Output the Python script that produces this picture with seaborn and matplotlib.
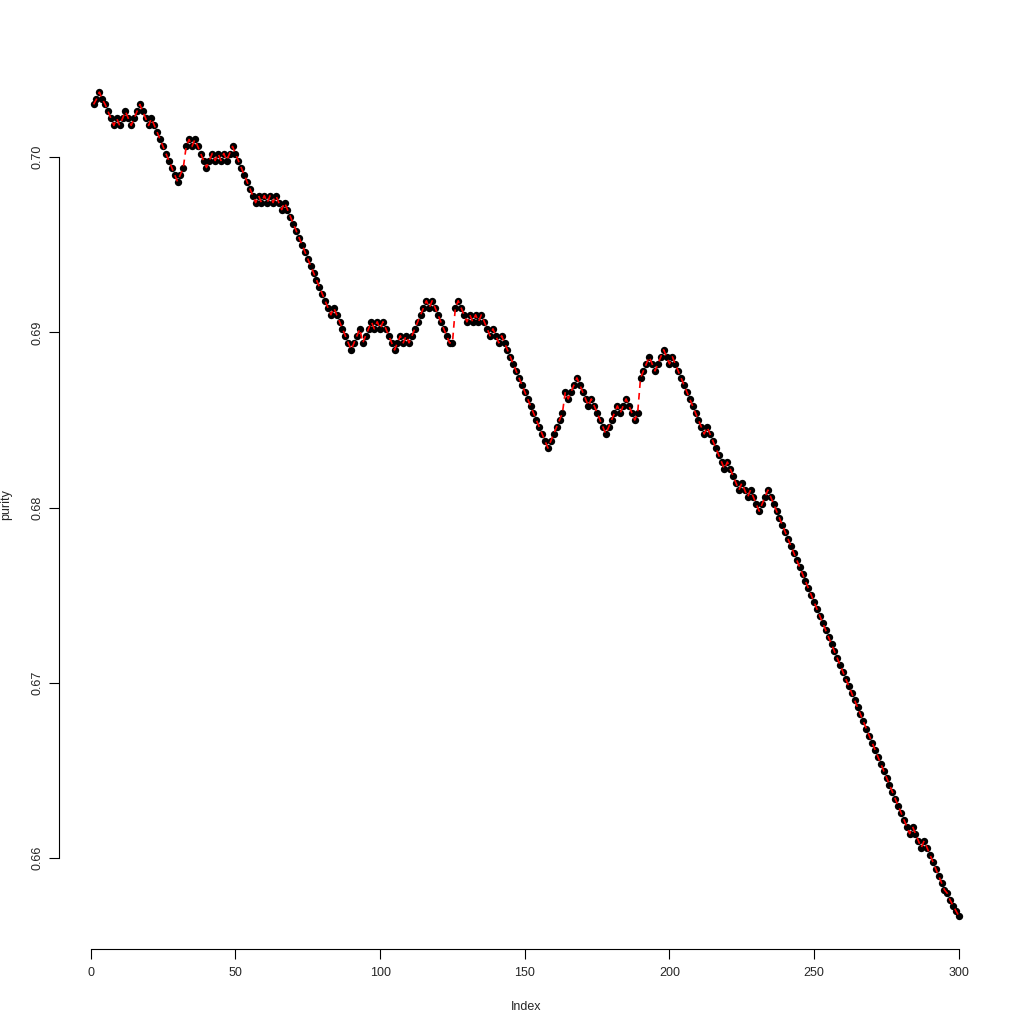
import numpy as np
import pandas as pd
import matplotlib
matplotlib.use("Agg")
import matplotlib.pyplot as plt
import seaborn as sns

purity = [
    0.7030, 0.7033, 0.7037, 0.7033, 0.7030, 0.7026, 0.7022, 0.7018, 0.7022, 0.7018,
    0.7022, 0.7026, 0.7022, 0.7018, 0.7022, 0.7026, 0.7030, 0.7026, 0.7022, 0.7018,
    0.7022, 0.7018, 0.7014, 0.7010, 0.7006, 0.7002, 0.6998, 0.6994, 0.6990, 0.6986,
    0.6990, 0.6994, 0.7006, 0.7010, 0.7006, 0.7010, 0.7006, 0.7002, 0.6998, 0.6994,
    0.6998, 0.7002, 0.6998, 0.7002, 0.6998, 0.7002, 0.6998, 0.7002, 0.7006, 0.7002,
    0.6998, 0.6994, 0.6990, 0.6986, 0.6982, 0.6978, 0.6974, 0.6978, 0.6974, 0.6978,
    0.6974, 0.6978, 0.6974, 0.6978, 0.6974, 0.6970, 0.6974, 0.6970, 0.6966, 0.6962,
    0.6958, 0.6954, 0.6950, 0.6946, 0.6942, 0.6938, 0.6934, 0.6930, 0.6926, 0.6922,
    0.6918, 0.6914, 0.6910, 0.6914, 0.6910, 0.6906, 0.6902, 0.6898, 0.6894, 0.6890,
    0.6894, 0.6898, 0.6902, 0.6894, 0.6898, 0.6902, 0.6906, 0.6902, 0.6906, 0.6902,
    0.6906, 0.6902, 0.6898, 0.6894, 0.6890, 0.6894, 0.6898, 0.6894, 0.6898, 0.6894,
    0.6898, 0.6902, 0.6906, 0.6910, 0.6914, 0.6918, 0.6914, 0.6918, 0.6914, 0.6910,
    0.6906, 0.6902, 0.6898, 0.6894, 0.6894, 0.6914, 0.6918, 0.6914, 0.6910, 0.6906,
    0.6910, 0.6906, 0.6910, 0.6906, 0.6910, 0.6906, 0.6902, 0.6898, 0.6902, 0.6898,
    0.6894, 0.6898, 0.6894, 0.6890, 0.6886, 0.6882, 0.6878, 0.6874, 0.6870, 0.6866,
    0.6862, 0.6858, 0.6854, 0.6850, 0.6846, 0.6842, 0.6838, 0.6834, 0.6838, 0.6842,
    0.6846, 0.6850, 0.6854, 0.6866, 0.6862, 0.6866, 0.6870, 0.6874, 0.6870, 0.6866,
    0.6862, 0.6858, 0.6862, 0.6858, 0.6854, 0.6850, 0.6846, 0.6842, 0.6846, 0.6850,
    0.6854, 0.6858, 0.6854, 0.6858, 0.6862, 0.6858, 0.6854, 0.6850, 0.6854, 0.6874,
    0.6878, 0.6882, 0.6886, 0.6882, 0.6878, 0.6882, 0.6886, 0.6890, 0.6886, 0.6882,
    0.6886, 0.6882, 0.6878, 0.6874, 0.6870, 0.6866, 0.6862, 0.6858, 0.6854, 0.6850,
    0.6846, 0.6842, 0.6846, 0.6842, 0.6838, 0.6834, 0.6830, 0.6826, 0.6822, 0.6826,
    0.6822, 0.6818, 0.6814, 0.6810, 0.6814, 0.6810, 0.6806, 0.6810, 0.6806, 0.6802,
    0.6798, 0.6802, 0.6806, 0.6810, 0.6806, 0.6802, 0.6798, 0.6794, 0.6790, 0.6786,
    0.6782, 0.6778, 0.6774, 0.6770, 0.6766, 0.6762, 0.6758, 0.6754, 0.6750, 0.6746,
    0.6742, 0.6738, 0.6734, 0.6730, 0.6726, 0.6722, 0.6718, 0.6714, 0.6710, 0.6706,
    0.6702, 0.6698, 0.6694, 0.6690, 0.6686, 0.6682, 0.6678, 0.6674, 0.6670, 0.6666,
    0.6662, 0.6658, 0.6654, 0.6650, 0.6646, 0.6642, 0.6638, 0.6634, 0.6630, 0.6626,
    0.6622, 0.6618, 0.6614, 0.6618, 0.6614, 0.6610, 0.6606, 0.6610, 0.6606, 0.6602,
    0.6598, 0.6594, 0.6590, 0.6586, 0.6582, 0.6580, 0.6576, 0.6573, 0.6570, 0.6567,
]
index = list(range(1, len(purity) + 1))
x_ticks = [0, 50, 100, 150, 200, 250, 300]
y_ticks = [0.66, 0.67, 0.68, 0.69, 0.70]

df = pd.DataFrame({"Index": index, "purity": purity})

sns.set_theme(style="white")
plt.rcParams["font.family"] = ["Liberation Sans", "DejaVu Sans"]

fig = plt.figure(figsize=(10.24, 10.24), dpi=100)
ax = fig.add_axes([0.0576, 0.0732, 0.9126, 0.869])

sns.scatterplot(data=df, x="Index", y="purity", color="black", s=28,
                edgecolor="black", linewidth=0, ax=ax, zorder=2)
sns.lineplot(data=df, x="Index", y="purity", color="red", linestyle=(0, (4, 3)),
             linewidth=1.2, ax=ax, zorder=3)

ax.set_xlim(-10.96, 311.96)
ax.set_ylim(0.65482, 0.70558)
ax.set_xticks(x_ticks)
ax.set_xticklabels([str(t) for t in x_ticks])
ax.set_yticks(y_ticks)
ax.set_yticklabels([f"{t:.2f}" for t in y_ticks], rotation=90, va="center")

for side in ["top", "right"]:
    ax.spines[side].set_visible(False)
ax.spines["left"].set_bounds(0.66, 0.70)
ax.spines["bottom"].set_bounds(0, 300)
for side in ["left", "bottom"]:
    ax.spines[side].set_color("black")
    ax.spines[side].set_linewidth(0.8)
ax.tick_params(axis="both", direction="out", length=7, width=0.8,
               color="black", labelsize=9, left=True, bottom=True)
ax.tick_params(axis="x", pad=6)
ax.tick_params(axis="y", pad=4)

ax.set_xlabel("Index", fontsize=9, labelpad=16)
ax.set_ylabel("purity", fontsize=9, labelpad=14)
ax.grid(False)

fig.savefig("out.png", dpi=100)
